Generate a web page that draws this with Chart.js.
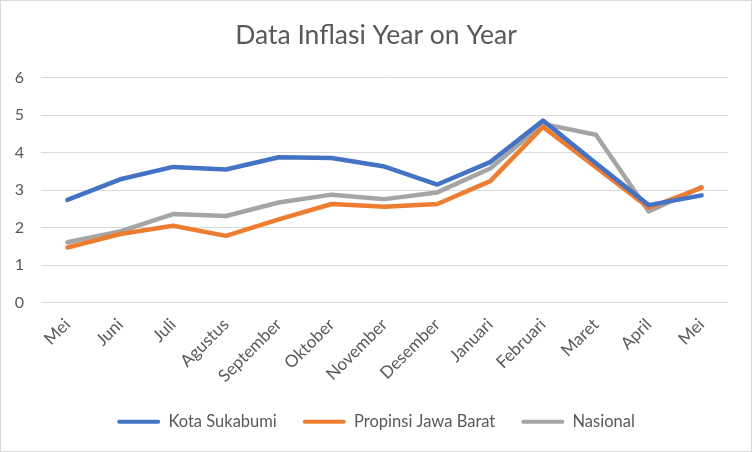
<!DOCTYPE html>
<html>
<head>
<meta charset="utf-8">
<script src="https://cdn.jsdelivr.net/npm/chart.js@4"></script>
<style>
  html, body { margin: 0; padding: 0; background: #fff; }
  .box { width: 752px; height: 452px; box-sizing: border-box; border: 1px solid #d9d9d9; }
  canvas { display: block; }
</style>
</head>
<body>
<div class="box"><canvas id="myChart" width="750" height="450"></canvas></div>
<script>
const months = ["Mei", "Juni", "Juli", "Agustus", "September", "Oktober", "November", "Desember", "Januari", "Februari", "Maret", "April", "Mei"];
const kotaSukabumi = [2.74, 3.29, 3.62, 3.55, 3.88, 3.86, 3.63, 3.15, 3.75, 4.86, 3.72, 2.6, 2.86];
const jawaBarat = [1.47, 1.83, 2.05, 1.78, 2.22, 2.63, 2.56, 2.63, 3.24, 4.69, 3.61, 2.53, 3.06];
const nasional = [1.61, 1.9, 2.36, 2.31, 2.67, 2.88, 2.76, 2.94, 3.58, 4.77, 4.48, 2.43, 3.08];
const yTicks = [0, 1, 2, 3, 4, 5, 6];

const textColor = "#595959";
const fontFamily = "Lato, 'Open Sans', sans-serif";

document.addEventListener("DOMContentLoaded", function () {
  const ctx = document.getElementById("myChart");
  const defaultLabels = Chart.defaults.plugins.legend.labels.generateLabels;

  function series(label, data, color) {
    return {
      label: label,
      data: data,
      borderColor: color,
      backgroundColor: color,
      borderWidth: 4.5,
      pointRadius: 0,
      pointHoverRadius: 0,
      tension: 0,
      fill: false,
      borderJoinStyle: "round",
      borderCapStyle: "round",
    };
  }

  new Chart(ctx, {
    type: "line",
    data: {
      labels: months,
      datasets: [
        series("Kota Sukabumi", kotaSukabumi, "#4472c4"),
        series("Propinsi Jawa Barat", jawaBarat, "#ed7d31"),
        series("Nasional", nasional, "#a5a5a5"),
      ],
    },
    options: {
      responsive: false,
      animation: false,
      layout: { padding: { left: 0, right: 0, top: 0, bottom: 11 } },
      plugins: {
        title: {
          display: true,
          text: "Data Inflasi Year on Year",
          color: textColor,
          font: { family: fontFamily, size: 26.5, weight: "normal" },
          padding: { top: 19, bottom: 26 },
        },
        legend: {
          position: "bottom",
          labels: {
            color: textColor,
            font: { family: fontFamily, size: 16.5 },
            boxWidth: 43,
            boxHeight: 4,
            padding: 26,
            useBorderRadius: true,
            borderRadius: 2,
            generateLabels: (chart) =>
              defaultLabels(chart).map((l) => ({ ...l, lineWidth: 0 })),
          },
        },
        tooltip: { enabled: false },
      },
      scales: {
        x: {
          offset: true,
          grid: { display: false },
          border: { display: false },
          ticks: {
            color: textColor,
            font: { family: fontFamily, size: 17 },
            maxRotation: 45,
            minRotation: 45,
            padding: 4,
            autoSkip: false,
          },
          afterFit: (scale) => { scale.height = 85; },
        },
        y: {
          min: 0,
          max: 6,
          afterBuildTicks: (scale) => { scale.ticks = yTicks.map((v) => ({ value: v })); },
          grid: { color: "#d9d9d9", lineWidth: 1, drawTicks: false },
          border: { display: false },
          ticks: {
            color: textColor,
            font: { family: fontFamily, size: 16 },
            padding: 17,
          },
          afterFit: (scale) => { scale.width = 40; },
        },
        // empty right-hand strip so title and legend centre on the full width
        yRight: {
          position: "right",
          grid: { display: false },
          border: { display: false },
          ticks: { display: false },
          afterFit: (scale) => { scale.width = 23; },
        },
      },
    },
  });
});
</script>
</body>
</html>
